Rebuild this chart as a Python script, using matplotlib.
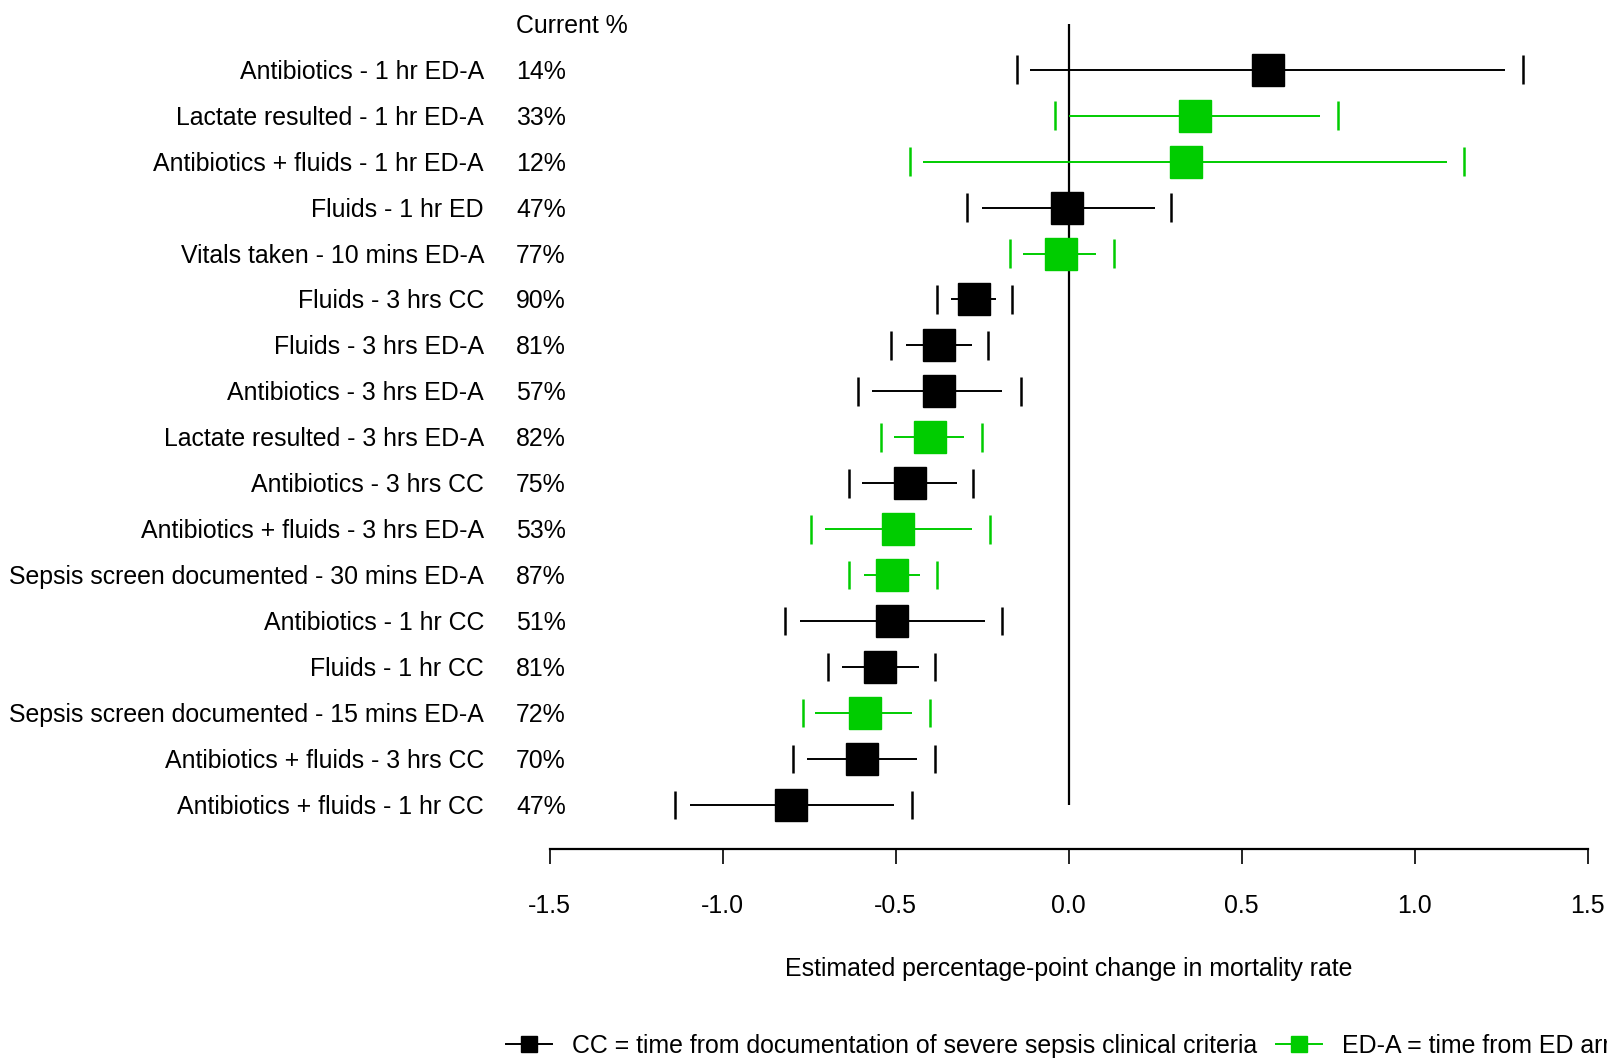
import matplotlib
matplotlib.use("Agg")
import matplotlib.pyplot as plt
from matplotlib.lines import Line2D
from matplotlib.transforms import blended_transform_factory, offset_copy

labels = [
    "Antibiotics - 1 hr ED-A",
    "Lactate resulted - 1 hr ED-A",
    "Antibiotics + fluids - 1 hr ED-A",
    "Fluids - 1 hr ED",
    "Vitals taken - 10 mins ED-A",
    "Fluids - 3 hrs CC",
    "Fluids - 3 hrs ED-A",
    "Antibiotics - 3 hrs ED-A",
    "Lactate resulted - 3 hrs ED-A",
    "Antibiotics - 3 hrs CC",
    "Antibiotics + fluids - 3 hrs ED-A",
    "Sepsis screen documented - 30 mins ED-A",
    "Antibiotics - 1 hr CC",
    "Fluids - 1 hr CC",
    "Sepsis screen documented - 15 mins ED-A",
    "Antibiotics + fluids - 3 hrs CC",
    "Antibiotics + fluids - 1 hr CC",
]
current_pct = [14, 33, 12, 47, 77, 90, 81, 57, 82, 75, 53, 87, 51, 81, 72, 70, 47]
group = ["CC", "ED-A", "ED-A", "CC", "ED-A", "CC", "CC", "CC", "ED-A", "CC",
         "ED-A", "ED-A", "CC", "CC", "ED-A", "CC", "CC"]
estimate = [0.576, 0.364, 0.338, -0.006, -0.023, -0.275, -0.376, -0.376, -0.402,
            -0.460, -0.494, -0.512, -0.512, -0.546, -0.590, -0.598, -0.803]
line_lo = [-0.112, 0.0, -0.421, -0.252, -0.131, -0.340, -0.471, -0.568, -0.504,
           -0.597, -0.704, -0.591, -0.778, -0.654, -0.732, -0.756, -1.095]
line_hi = [1.260, 0.727, 1.095, 0.249, 0.079, -0.210, -0.279, -0.192, -0.303,
           -0.322, -0.279, -0.429, -0.242, -0.434, -0.453, -0.439, -0.505]
tick_lo = [-0.149, -0.039, -0.460, -0.295, -0.169, -0.382, -0.513, -0.608, -0.542,
           -0.634, -0.745, -0.634, -0.821, -0.697, -0.769, -0.797, -1.137]
tick_hi = [1.312, 0.779, 1.143, 0.296, 0.131, -0.163, -0.232, -0.139, -0.252,
           -0.276, -0.228, -0.382, -0.192, -0.387, -0.402, -0.387, -0.454]
xticks = [-1.5, -1.0, -0.5, 0.0, 0.5, 1.0, 1.5]

colors = {"CC": "#000000", "ED-A": "#00CC00"}
row_colors = [colors[g] for g in group]

plt.rcParams["font.family"] = ["Liberation Sans", "DejaVu Sans"]
plt.rcParams["font.size"] = 17.9

fig = plt.figure(figsize=(16.08, 10.59), dpi=100)
ax = fig.add_axes([0.3419, 0.1983, 0.6454, 0.8008])

ax.vlines(0, 0, len(labels), color="black", lw=1.6, zorder=1)

for i in range(len(labels)):
    y = i + 1
    c = row_colors[i]
    ax.hlines(y, line_lo[i], line_hi[i], color=c, lw=1.4, zorder=2)
    ax.vlines([tick_lo[i], tick_hi[i]], y - 0.31, y + 0.31, color=c, lw=1.8, zorder=2)
    ax.plot(estimate[i], y, marker="s", ms=23, color=c, mec=c, zorder=3)

ax.set_xlim(-1.5, 1.5)
ax.set_ylim(17.956, -0.495)
ax.set_xticks(xticks)
ax.set_xticklabels([f"{t:.1f}" for t in xticks])
ax.set_yticks([])
for s in ["left", "top", "right"]:
    ax.spines[s].set_visible(False)
ax.spines["bottom"].set_linewidth(1.6)
ax.tick_params(axis="x", length=10.5, width=1.2, pad=22)

trans = blended_transform_factory(fig.transFigure, ax.transData)
trans = offset_copy(trans, fig=fig, y=-2, units="dots")
ax.text(0.3209, 0, "Current %", transform=trans, ha="left", va="center", clip_on=False)
for i, (lab, p) in enumerate(zip(labels, current_pct)):
    ax.text(0.301, i + 1, lab, transform=trans, ha="right", va="center", clip_on=False)
    ax.text(0.3209, i + 1, f"{p}%", transform=trans, ha="left", va="center", clip_on=False)

fig.text(0.6646, 1 - 969 / 1059, "Estimated percentage-point change in mortality rate",
         ha="center", va="center")

handles = [
    Line2D([], [], color="black", lw=1.4, marker="s", ms=11),
    Line2D([], [], color="#00CC00", lw=1.4, marker="s", ms=11),
]
fig.legend(handles,
           ["CC = time from documentation of severe sepsis clinical criteria",
            "ED-A = time from ED arrival"],
           loc="center left", bbox_to_anchor=(0.3148, 1 - 1046 / 1059), ncol=2,
           frameon=False, handlelength=1.85, handletextpad=0.8, columnspacing=0.75,
           borderaxespad=0, borderpad=0)

fig.savefig("out.png", dpi=100)
